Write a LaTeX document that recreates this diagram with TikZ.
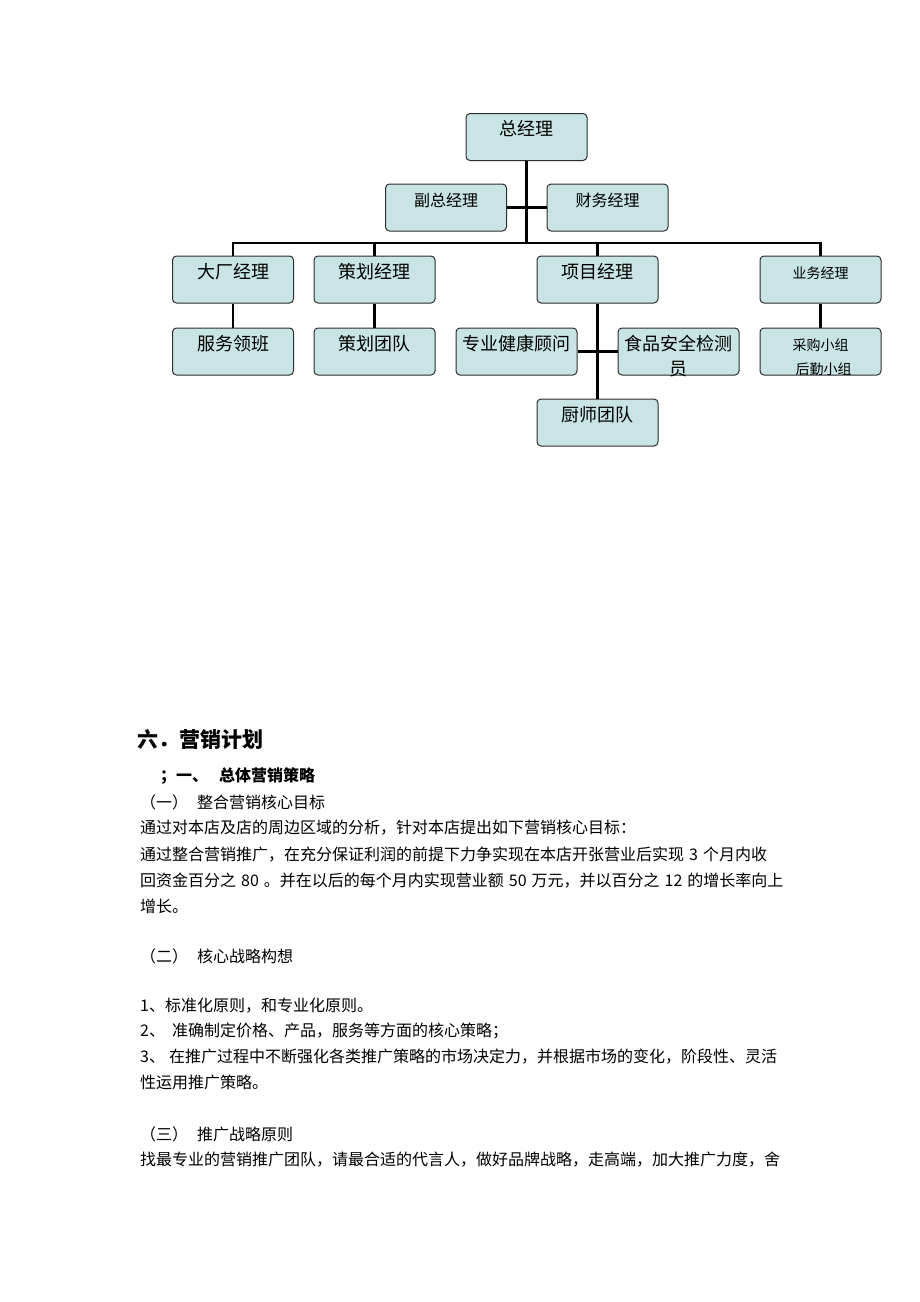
\documentclass[tikz,border=0pt]{standalone}
\usepackage{fontspec}
\setmainfont{Noto Sans CJK SC}
\usepackage{xcolor}
\usetikzlibrary{calc}
\XeTeXlinebreaklocale "zh"
\XeTeXlinebreakskip=0pt plus 1pt

\definecolor{boxfill}{RGB}{200,228,229}
\definecolor{boxline}{RGB}{45,45,45}

\newcommand{\fullline}[1]{\makebox[638pt][s]{#1}}

\tikzset{
  orgbox/.style={draw=boxline, line width=1pt, fill=boxfill, rounded corners=4pt,
    minimum width=121pt, minimum height=47pt, inner xsep=2pt, inner ysep=8pt,
    text height=14pt, text depth=17pt, align=center, font=\fontsize{18}{25}\selectfont},
  midbox/.style={orgbox, font=\fontsize{16}{22}\selectfont},
  smallbox/.style={orgbox, font=\fontsize{14}{24}\selectfont},
  twoline/.style={inner ysep=0pt, text height=#1+22pt, text depth=0pt},
  link/.style={line width=2.8pt},
  bodyline/.style={anchor=west, inner sep=0pt, font=\fontsize{16}{20}\selectfont},
}

\begin{document}
\begin{tikzpicture}[x=1pt, y=-1pt]

\useasboundingbox (0,0) rectangle (920,1302);

\node[orgbox] (gm) at (526.5,137) {总经理};
\node[midbox] (fz) at (446,207.5) {副总经理};
\node[midbox] (cw) at (607.5,207.5) {财务经理};

\node[orgbox] (dt) at (233,279.5) {大厂经理};
\node[orgbox] (ch) at (374.5,279.5) {策划经理};
\node[orgbox] (xm) at (597.5,279.5) {项目经理};
\node[smallbox] (yw) at (820.5,279.5) {业务经理};

\node[orgbox] (fw) at (233,351.5) {服务领班};
\node[orgbox] (cd) at (374.5,351.5) {策划团队};
\node[orgbox] (jk) at (516.5,351.5) {专业健康顾问};
\node[orgbox, twoline=25pt] (sp) at (678.5,351.5) {食品安全检测\\员};
\node[smallbox, twoline=24pt] (cg) at (820.5,351.5) {采购小组\\\hspace*{6pt}后勤小组};

\node[orgbox] (cs) at (597.5,422.5) {厨师团队};

\coordinate (bus) at (526.5,243);
\draw[link] (gm.south) -- (bus);
\draw[link] (fz) -- (cw);
\draw[link] (dt.north) |- (bus) -| (yw.north);
\draw[link] (ch.north) |- (bus);
\draw[link] (xm.north) |- (bus);

\draw[link] (dt) -- (fw);
\draw[link] (ch) -- (cd);
\draw[link] (yw) -- (cg);
\draw[link] (xm) -- (cs);
\draw[link] (jk) -- (sp);


\node[anchor=west, inner sep=0pt, font=\fontsize{21}{25}\bfseries] (h6) at (137,740) {六．营销计划};
\node[bodyline, font=\fontsize{16}{20}\bfseries] (h61) at (160,776) {；一、\hspace{11pt}总体营销策略};

\node[bodyline] (p1) at (140,802) {（一）\hspace{9pt}整合营销核心目标};
\node[bodyline] (p2) at (140,828) {通过对本店及店的周边区域的分析，针对本店提出如下营销核心目标：};
\node[bodyline] (p3) at (140,855) {\fullline{通过整合营销推广，在充分保证利润的前提下力争实现在本店开张营业后实现\hspace{5pt}3\hspace{5pt}个月内收}};
\node[bodyline] (p4) at (140,881) {\fullline{回资金百分之\hspace{5pt}80\hspace{5pt}。并在以后的每个月内实现营业额\hspace{5pt}50\hspace{5pt}万元，并以百分之\hspace{5pt}12\hspace{5pt}的增长率向上}};
\node[bodyline] (p5) at (140,906) {增长。};

\node[bodyline] (p6) at (140,956) {（二）\hspace{9pt}核心战略构想};
\node[bodyline] (p7) at (140,1006) {1、标准化原则，和专业化原则。};
\node[bodyline] (p8) at (140,1031) {2、\hspace{7pt}准确制定价格、产品，服务等方面的核心策略；};
\node[bodyline] (p9) at (140,1057) {\fullline{3、\hspace{4pt}在推广过程中不断强化各类推广策略的市场决定力，并根据市场的变化，阶段性、灵活}};
\node[bodyline] (p10) at (140,1082) {性运用推广策略。};

\node[bodyline] (p11) at (140,1134) {（三）\hspace{9pt}推广战略原则};
\node[bodyline] (p12) at (140,1160) {\fullline{找最专业的营销推广团队，请最合适的代言人，做好品牌战略，走高端，加大推广力度，舍}};

\end{tikzpicture}
\end{document}
